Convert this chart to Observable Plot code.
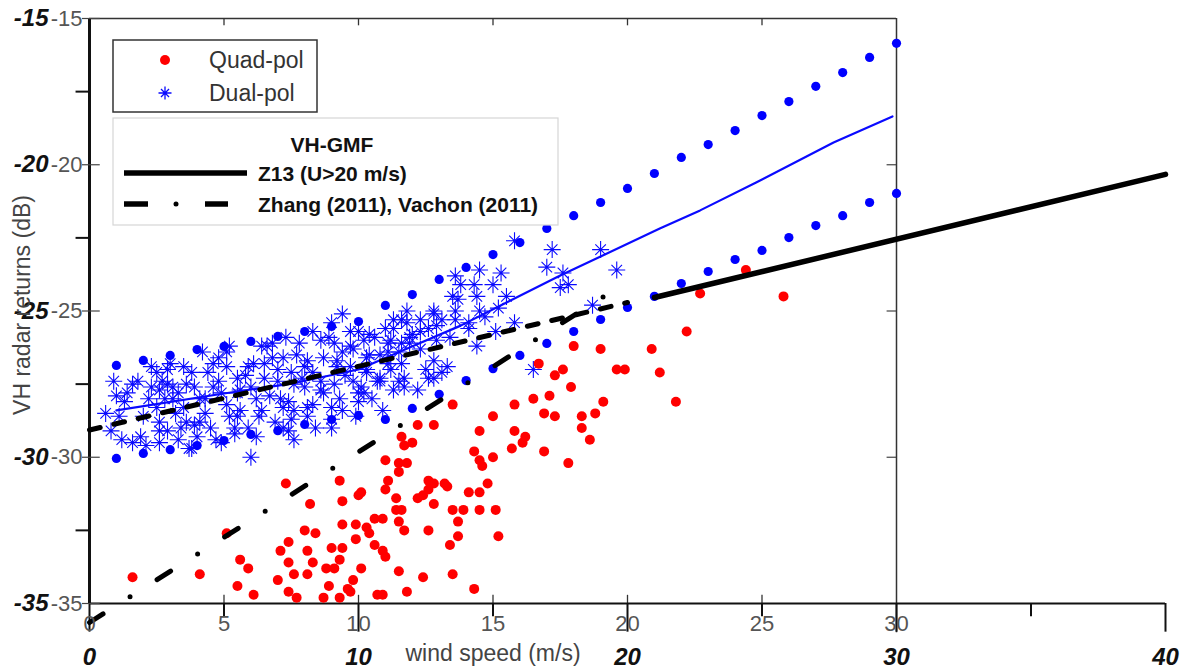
<!DOCTYPE html>
<html><head><meta charset="utf-8">
<script src="https://cdn.jsdelivr.net/npm/d3@7"></script>
<script src="https://cdn.jsdelivr.net/npm/@observablehq/plot@0.6"></script>
<style>
body{margin:0;background:#fff;}
#wrap{position:relative;width:1185px;height:671px;overflow:hidden;background:#fff;}
#wrap svg{display:block;}
#legend{position:absolute;left:0;top:0;pointer-events:none;}
</style></head><body><div id="wrap"></div>
<script>
// ---------- data (wind speed m/s, VH sigma0 dB) ----------
const quadPol = [
[1.6,-34.1],[4.1,-34.0],[5.1,-32.6],[5.6,-33.5],[5.9,-33.8],[5.5,-34.4],[6.1,-34.7],[7.3,-30.9],[8.2,-31.6],[8.0,-32.5],
[8.4,-32.6],[7.4,-32.9],[7.1,-33.2],[8.1,-33.2],[7.4,-33.6],[8.3,-33.6],[7.6,-34.0],[8.1,-34.0],[7.0,-34.2],[7.4,-34.6],
[7.7,-34.8],[8.7,-34.8],[8.9,-34.4],[9.3,-34.8],[8.8,-33.8],[9.1,-33.8],[9.3,-33.5],[9.0,-33.1],[9.4,-33.1],[9.3,-30.8],
[9.4,-31.5],[10.0,-31.3],[10.1,-31.2],[9.4,-32.3],[9.9,-32.3],[9.9,-32.8],[10.3,-32.4],[10.4,-32.6],[10.6,-32.1],[10.9,-32.1],
[10.6,-33.0],[11.0,-33.4],[10.1,-33.8],[9.8,-34.2],[9.6,-34.5],[9.7,-34.6],[10.7,-34.7],[10.9,-34.7],[11.0,-30.1],[11.1,-30.8],
[11.0,-31.1],[11.4,-31.4],[11.4,-31.8],[11.5,-32.2],[13.5,-28.2],[12.2,-28.9],[12.8,-28.9],[11.6,-29.3],[11.7,-29.6],[12.0,-29.5],
[11.5,-30.2],[11.8,-30.2],[11.5,-30.5],[11.6,-31.8],[12.6,-30.8],[12.8,-30.9],[13.2,-30.9],[13.3,-31.0],[12.6,-31.1],[12.4,-31.3],
[12.2,-31.4],[12.8,-31.6],[13.5,-31.8],[13.7,-32.2],[11.7,-32.5],[12.6,-32.5],[10.9,-33.2],[13.4,-33.0],[11.5,-33.9],[12.4,-34.1],
[13.5,-34.0],[11.8,-34.6],[14.3,-29.8],[14.5,-30.1],[14.6,-30.3],[15.0,-30.0],[15.7,-29.7],[16.1,-29.5],[16.9,-29.8],[17.8,-30.2],
[18.6,-29.4],[14.1,-31.2],[14.5,-31.2],[14.8,-30.9],[13.9,-31.8],[14.5,-31.8],[15.1,-31.8],[13.7,-32.7],[15.2,-32.7],[14.3,-34.5],
[16.7,-26.8],[17.3,-27.2],[17.6,-27.0],[17.9,-27.6],[18.0,-26.2],[19.0,-26.3],[19.6,-27.0],[19.9,-27.0],[20.9,-26.3],[21.2,-27.1],
[21.8,-28.1],[22.2,-25.7],[22.7,-24.4],[24.4,-23.6],[25.8,-24.5],[15.8,-28.2],[16.5,-28.0],[17.1,-27.9],[16.9,-28.5],[17.3,-28.6],
[18.3,-28.6],[18.3,-29.0],[18.8,-28.5],[19.1,-28.1],[15.8,-29.1],[16.2,-29.3],[15.0,-28.6],[14.5,-29.1]
];
const dualPol = [
[0.6,-28.5],[0.9,-27.4],[0.8,-29.1],[1.2,-29.4],[1.6,-29.5],[1.4,-27.8],[1.3,-28.1],[1.6,-27.5],[1.9,-29.3],[2.3,-26.9],
[2.5,-27.1],[2.2,-28.0],[2.6,-27.7],[2.7,-27.4],[2.8,-28.0],[2.5,-28.3],[2.6,-28.8],[2.9,-29.1],[2.6,-29.5],[2.9,-27.0],
[3.1,-27.6],[3.3,-27.8],[3.5,-28.3],[3.2,-28.5],[3.3,-29.4],[3.6,-28.8],[3.8,-29.7],[3.8,-27.1],[3.9,-27.6],[4.1,-28.0],
[4.3,-28.5],[4.1,-28.8],[4.5,-29.0],[4.7,-29.4],[4.2,-26.4],[4.8,-26.6],[4.8,-27.4],[4.9,-27.8],[5.1,-28.2],[5.2,-28.6],
[5.4,-29.0],[5.1,-26.4],[5.1,-26.9],[5.5,-27.3],[5.5,-27.8],[5.6,-28.4],[5.9,-26.9],[6.0,-27.6],[6.2,-28.0],[6.3,-28.6],
[6.0,-30.0],[5.9,-29.0],[6.5,-26.8],[6.6,-26.2],[6.8,-26.6],[7.0,-27.4],[7.1,-28.0],[7.2,-28.3],[7.2,-29.0],[7.5,-28.7],
[7.5,-27.1],[7.7,-26.5],[8.0,-26.9],[8.0,-27.6],[8.1,-28.3],[8.3,-25.7],[8.6,-26.0],[8.7,-26.6],[8.6,-27.4],[8.7,-27.8],
[9.0,-28.3],[9.0,-28.7],[9.0,-29.0],[9.2,-26.9],[9.4,-26.4],[9.4,-25.1],[9.7,-25.7],[9.8,-27.4],[10.0,-27.8],[10.2,-26.0],
[9.7,-26.2],[10.3,-26.6],[9.4,-28.4],[7.6,-29.4],
[1.8,-27.4],[2.3,-27.6],[2.9,-27.5],[3.1,-28.0],[2.6,-29.1],[3.4,-29.0],[3.7,-29.7],[4.0,-29.3],[3.6,-27.5],[4.3,-28.0],
[4.6,-26.8],[4.4,-27.1],[5.2,-26.2],[5.6,-27.7],[5.5,-28.6],[5.4,-29.2],[6.4,-26.2],[6.1,-26.8],[6.5,-27.3],[6.4,-28.4],
[6.8,-26.1],[7.2,-26.6],[7.0,-27.0],[7.6,-27.5],[7.4,-28.1],[7.6,-28.4],[7.4,-29.1],[7.8,-26.1],[8.1,-26.7],[8.3,-27.1],
[8.6,-27.7],[8.3,-28.2],[8.1,-28.6],[9.0,-25.4],[9.1,-26.1],[9.2,-26.7],[9.1,-27.5],[9.3,-28.0],[10.0,-25.7],[9.8,-26.3],
[9.7,-26.9],[10.1,-27.6],[10.0,-28.1],[10.6,-25.9],[10.4,-26.5],[10.3,-27.0],[10.7,-27.4],[11.2,-26.0],[11.1,-26.8],[11.3,-27.7],
[10.9,-28.4],[11.3,-25.3],
[10.3,-27.1],[10.2,-27.8],[10.4,-25.8],[11.0,-25.6],[11.1,-26.4],[10.8,-27.3],[11.5,-27.4],[11.7,-27.6],[11.8,-25.0],[11.8,-25.4],
[11.9,-25.9],[11.6,-26.1],[12.3,-25.3],[12.6,-25.6],[12.8,-25.0],[13.1,-25.3],[12.9,-26.0],[12.6,-27.3],[12.2,-27.7],[13.1,-27.1],
[13.3,-26.9],[13.4,-25.9],[13.7,-24.6],[13.6,-23.8],[13.8,-24.1],[14.3,-24.1],[14.5,-23.6],[14.4,-24.5],[14.5,-25.0],[14.1,-25.4],
[15.0,-24.1],[15.3,-23.7],[15.2,-24.9],[15.5,-24.5],[14.4,-26.2],[15.1,-25.7],[15.8,-25.4],[15.8,-22.6],[16.5,-27.0],[17.0,-23.5],
[17.2,-22.9],[17.6,-23.7],[17.5,-24.2],[17.8,-24.1],[19.0,-22.9],[19.6,-23.6],[18.7,-24.8],[13.5,-24.5],[13.6,-25.0],[12.8,-25.1],
[12.9,-25.5],[13.6,-25.3],[14.7,-25.2],[11.3,-25.6],[12.3,-25.7],[11.6,-25.3],[12.0,-25.8],[11.9,-26.1],[14.1,-25.6],[11.1,-26.1],
[11.5,-26.4],[12.3,-26.3],[12.8,-26.7],[10.8,-26.5],[11.6,-26.8],[11.2,-27.0],[11.7,-27.3],[12.5,-27.0],[12.8,-27.3],[10.8,-27.4],
[1.0,-27.9],[2.0,-28.6],[3.0,-26.8],[3.9,-28.9],[4.6,-27.6],[5.8,-27.2],[6.7,-27.9],[6.9,-28.8],[7.9,-27.3],[8.4,-29.0],
[9.5,-27.2],[9.9,-28.6],[10.5,-28.0],[6.2,-29.3],[4.9,-29.5],[2.1,-29.6],[1.1,-28.6],[3.5,-26.9],[7.3,-25.9],[8.9,-25.9]
];
const boundSpeed = [1,2,3,4,5,6,7,8,9,10,11,12,13,14,15,16,17,18,19,20,21,22,23,24,25,26,27,28,29,30];
const upperBound = [-26.86,-26.69,-26.52,-26.32,-26.21,-26.04,-25.87,-25.70,-25.53,-25.36,-24.81,-24.44,-23.92,-23.51,-23.07,
  -22.66,-22.18,-21.74,-21.29,-20.81,-20.30,-19.75,-19.31,-18.83,-18.32,-17.84,-17.32,-16.85,-16.33,-15.85];
const lowerBound = [-30.04,-29.87,-29.74,-29.60,-29.43,-29.22,-29.09,-28.88,-28.71,-28.57,-28.71,-28.33,-27.85,-27.38,-26.97,
  -26.52,-26.11,-25.70,-25.29,-24.88,-24.50,-24.06,-23.65,-23.24,-22.93,-22.49,-22.08,-21.74,-21.29,-20.98];
const fitSpeed = [1,5,7.5,10,11.9,13.8,15.65,17.5,21.2,22.7,24.8,27.66,29.85];
const fitSigma = [-28.4,-27.82,-27.48,-27.0,-26.25,-25.5,-24.64,-23.79,-22.18,-21.56,-20.6,-19.24,-18.35];
const zhangSpeed = [0,20];
const zhangSigma = [-29.07,-24.71];
const vachonSpeed = [0,19.3];
const vachonSigma = [-35.65,-24.4];
const z13Speed = [21,40];
const z13Sigma = [-24.54,-20.33];
const innerXTicks = [0,5,10,15,20,25,30];
const outerXTicks = [0,10,20,30,40];
const outerMinorX = [5,15,25,35];
const yTicks = [-35,-30,-25,-20,-15];
const yMinor = [-32.5,-27.5,-22.5,-17.5];
const xTitle = "wind speed (m/s)";
const yTitle = "VH radar returns (dB)";

// ---------- helpers ----------
const pairs = arr => arr.map(([u, v]) => ({u, v}));
const series = (us, vs) => us.map((u, i) => ({u, v: vs[i]}));
const starSymbol = {
  draw(ctx, size) {
    const r = Math.sqrt(size / Math.PI), d = r * 0.62;
    ctx.moveTo(-r, 0); ctx.lineTo(r, 0);
    ctx.moveTo(0, -r); ctx.lineTo(0, r);
    ctx.moveTo(-d, -d); ctx.lineTo(d, d);
    ctx.moveTo(-d, d); ctx.lineTo(d, -d);
  }
};
const FONT = "'Liberation Sans', Arial, sans-serif";
const BLUE = "#0a0aff";

const chart = Plot.plot({
  width: 1185, height: 671,
  marginLeft: 89, marginRight: 20, marginTop: 18, marginBottom: 68,
  x: {domain: [0, 40], axis: null},
  y: {domain: [-35, -15], axis: null},
  style: {fontFamily: FONT, background: "white", overflow: "visible"},
  marks: [
    // frame and ticks
    Plot.ruleY([-15], {x1: 0, x2: 30, stroke: "#333", strokeWidth: 1.5}),
    Plot.ruleX([30], {y1: -36, y2: -15, stroke: "#333", strokeWidth: 1.5}),
    Plot.ruleX(innerXTicks.filter(d => d > 0 && d < 30), {y1: -35, y2: -34.72, stroke: "#333", strokeWidth: 1.3}),
    Plot.ruleX(innerXTicks.filter(d => d > 0 && d < 30), {y1: -15.25, y2: -15, stroke: "#333", strokeWidth: 1.3}),
    Plot.ruleX(outerMinorX, {y1: -35.45, y2: -35, stroke: "#111", strokeWidth: 2}),
    Plot.ruleX(outerXTicks, {y1: -35.98, y2: -35, stroke: "#111", strokeWidth: 2}),
    Plot.ruleY([-35], {x1: 0, x2: 40, stroke: "#111", strokeWidth: 2.2}),
    Plot.ruleX([0], {y1: -35, y2: -15, stroke: "#111", strokeWidth: 3}),
    Plot.ruleY(yMinor, {x1: -0.5, x2: 0, stroke: "#111", strokeWidth: 2}),
    Plot.ruleY(yTicks, {x1: -0.26, x2: 0.4, stroke: "#444", strokeWidth: 1.2}),
    Plot.ruleY(yTicks.filter(d => d > -35 && d < -15), {x1: 29.65, x2: 30, stroke: "#444", strokeWidth: 1.2}),
    // data
    Plot.dot(pairs(dualPol), {x: "u", y: "v", symbol: starSymbol, r: 8.5, fill: "none", stroke: BLUE, strokeWidth: 1.1}),
    Plot.dot(series(boundSpeed, upperBound), {x: "u", y: "v", r: 4.6, fill: "#0000ff", stroke: "none"}),
    Plot.dot(series(boundSpeed, lowerBound), {x: "u", y: "v", r: 4.6, fill: "#0000ff", stroke: "none"}),
    Plot.dot(pairs(quadPol), {x: "u", y: "v", r: 5, fill: "#ff0000", stroke: "none"}),
    Plot.line(series(fitSpeed, fitSigma), {x: "u", y: "v", stroke: BLUE, strokeWidth: 2.2, curve: "linear"}),
    Plot.line(series(zhangSpeed, zhangSigma), {x: "u", y: "v", stroke: "#000", strokeWidth: 5, strokeDasharray: "11,14"}),
    Plot.line(series(vachonSpeed, vachonSigma), {x: "u", y: "v", stroke: "#000", strokeWidth: 5, strokeDasharray: "16,32,0,32", strokeLinecap: "round"}),
    Plot.line(series(z13Speed, z13Sigma), {x: "u", y: "v", stroke: "#000", strokeWidth: 5.5}),
    // tick labels
    Plot.text(yTicks, {x: () => 0, y: d => d, text: d => String(d), textAnchor: "end", dx: -7, fontSize: 22, fill: "#555"}),
    Plot.text(yTicks, {x: () => 0, y: d => d, text: d => String(d), textAnchor: "end", dx: -41, fontSize: 24, fontWeight: "bold", fontStyle: "italic", fill: "#111"}),
    Plot.text(innerXTicks, {x: d => d, y: () => -35, text: d => String(d), dy: 20, fontSize: 22, fill: "#555"}),
    Plot.text(outerXTicks, {x: d => d, y: () => -35, text: d => String(d), dy: 54, fontSize: 24, fontWeight: "bold", fontStyle: "italic", fill: "#111"}),
    // titles
    Plot.text([xTitle], {x: () => 15, y: () => -35, text: d => d, dy: 50, fontSize: 23, fill: "#444"}),
    Plot.text([yTitle], {frameAnchor: "left", text: d => d, rotate: -90, textAnchor: "middle", dx: -67, dy: -6, fontSize: 23, fill: "#444"})
  ]
});
const wrap = document.getElementById("wrap");
wrap.appendChild(chart);

// ---------- legends (overlay) ----------
const svg = d3.select(wrap).append("svg").attr("id", "legend")
  .attr("width", 1185).attr("height", 671)
  .style("font-family", FONT);
// legend 1
svg.append("rect").attr("x", 113).attr("y", 40).attr("width", 204).attr("height", 72)
  .attr("fill", "#fff").attr("stroke", "#333").attr("stroke-width", 1.5);
svg.append("circle").attr("cx", 165).attr("cy", 60).attr("r", 5).attr("fill", "#ff0000");
svg.append("path").attr("transform", "translate(165,93)")
  .attr("d", d3.symbol(starSymbol, Math.PI * 6.5 * 6.5)())
  .attr("fill", "none").attr("stroke", BLUE).attr("stroke-width", 1.3);
[["Quad-pol", 60], ["Dual-pol", 93]].forEach(([t, y]) => {
  svg.append("text").attr("x", 209).attr("y", y).attr("dominant-baseline", "central")
    .attr("font-size", 23).attr("fill", "#333").text(t);
});
// legend 2
svg.append("rect").attr("x", 113).attr("y", 118).attr("width", 445).attr("height", 107)
  .attr("fill", "#fff").attr("stroke", "#d6d6d6").attr("stroke-width", 1.2);
svg.append("text").attr("x", 332).attr("y", 144).attr("text-anchor", "middle").attr("dominant-baseline", "central")
  .attr("font-size", 21).attr("font-weight", "bold").attr("fill", "#111").text("VH-GMF");
svg.append("line").attr("x1", 124).attr("x2", 247).attr("y1", 173).attr("y2", 173)
  .attr("stroke", "#000").attr("stroke-width", 5.5);
svg.append("text").attr("x", 258).attr("y", 173).attr("dominant-baseline", "central")
  .attr("font-size", 21).attr("font-weight", "bold").attr("fill", "#111").text("Z13 (U>20 m/s)");
svg.append("line").attr("x1", 124).attr("x2", 148).attr("y1", 204).attr("y2", 204).attr("stroke", "#000").attr("stroke-width", 5.5);
svg.append("circle").attr("cx", 176).attr("cy", 204).attr("r", 2.5).attr("fill", "#000");
svg.append("line").attr("x1", 205).attr("x2", 228).attr("y1", 204).attr("y2", 204).attr("stroke", "#000").attr("stroke-width", 5.5);
svg.append("text").attr("x", 258).attr("y", 204).attr("dominant-baseline", "central")
  .attr("font-size", 21).attr("font-weight", "bold").attr("fill", "#111").text("Zhang (2011), Vachon (2011)");
</script></body></html>
